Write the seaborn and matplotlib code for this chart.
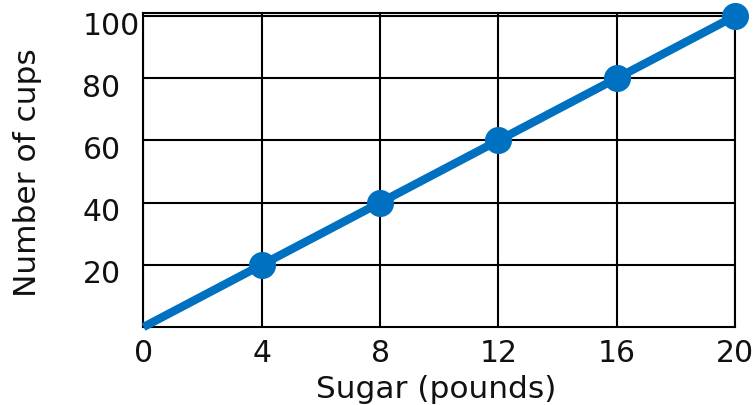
import numpy as np
import pandas as pd
import matplotlib
matplotlib.use('Agg')
import matplotlib.pyplot as plt
import matplotlib.transforms as mtransforms
import seaborn as sns

# data
sugar = [0, 4, 8, 12, 16, 20]
cups = [0, 20, 40, 60, 80, 100]
x_ticks = [0, 4, 8, 12, 16, 20]
y_ticks = [20, 40, 60, 80, 100]

sns.set_theme(style='white')
plt.rcParams['font.family'] = ['DejaVu Sans']

df = pd.DataFrame({'Sugar': sugar, 'Cups': cups})
blue = '#0070c0'
txt = '#111111'

fig = plt.figure(figsize=(7.54, 4.06), dpi=100)
ax = fig.add_axes([0.1903, 0.1921, 0.7845, 0.7734])

sns.lineplot(data=df, x='Sugar', y='Cups', ax=ax, color=blue, linewidth=6,
             marker='o', markersize=19.5, markeredgewidth=0, markevery=[1, 2, 3, 4, 5],
             solid_capstyle='butt', clip_on=False, zorder=5)

ax.set_xlim(0, 20)
ax.set_ylim(0, 101)
ax.set_xticks(x_ticks)
ax.set_yticks(y_ticks)
ax.grid(True, color='black', linewidth=1.5)
for s in ax.spines.values():
    s.set_color('black')
    s.set_linewidth(1.5)

ax.tick_params(axis='both', length=0, labelsize=21.5, colors=txt)
ax.tick_params(axis='x', pad=8)
ax.tick_params(axis='y', pad=44)
# y labels are left-aligned and sit a little below their grid lines
offset = mtransforms.ScaledTranslation(0, -6 / 100, fig.dpi_scale_trans)
for lbl in ax.get_yticklabels():
    lbl.set_horizontalalignment('left')
    lbl.set_transform(lbl.get_transform() + offset)

ax.set_xlabel('Sugar (pounds)', fontsize=22.5, color=txt)
ax.set_ylabel('Number of cups', fontsize=22.5, color=txt)
ax.xaxis.set_label_coords(0.494, -0.15)
ax.yaxis.set_label_coords(-0.172, 0.494)

plt.savefig('out.png', dpi=100)
